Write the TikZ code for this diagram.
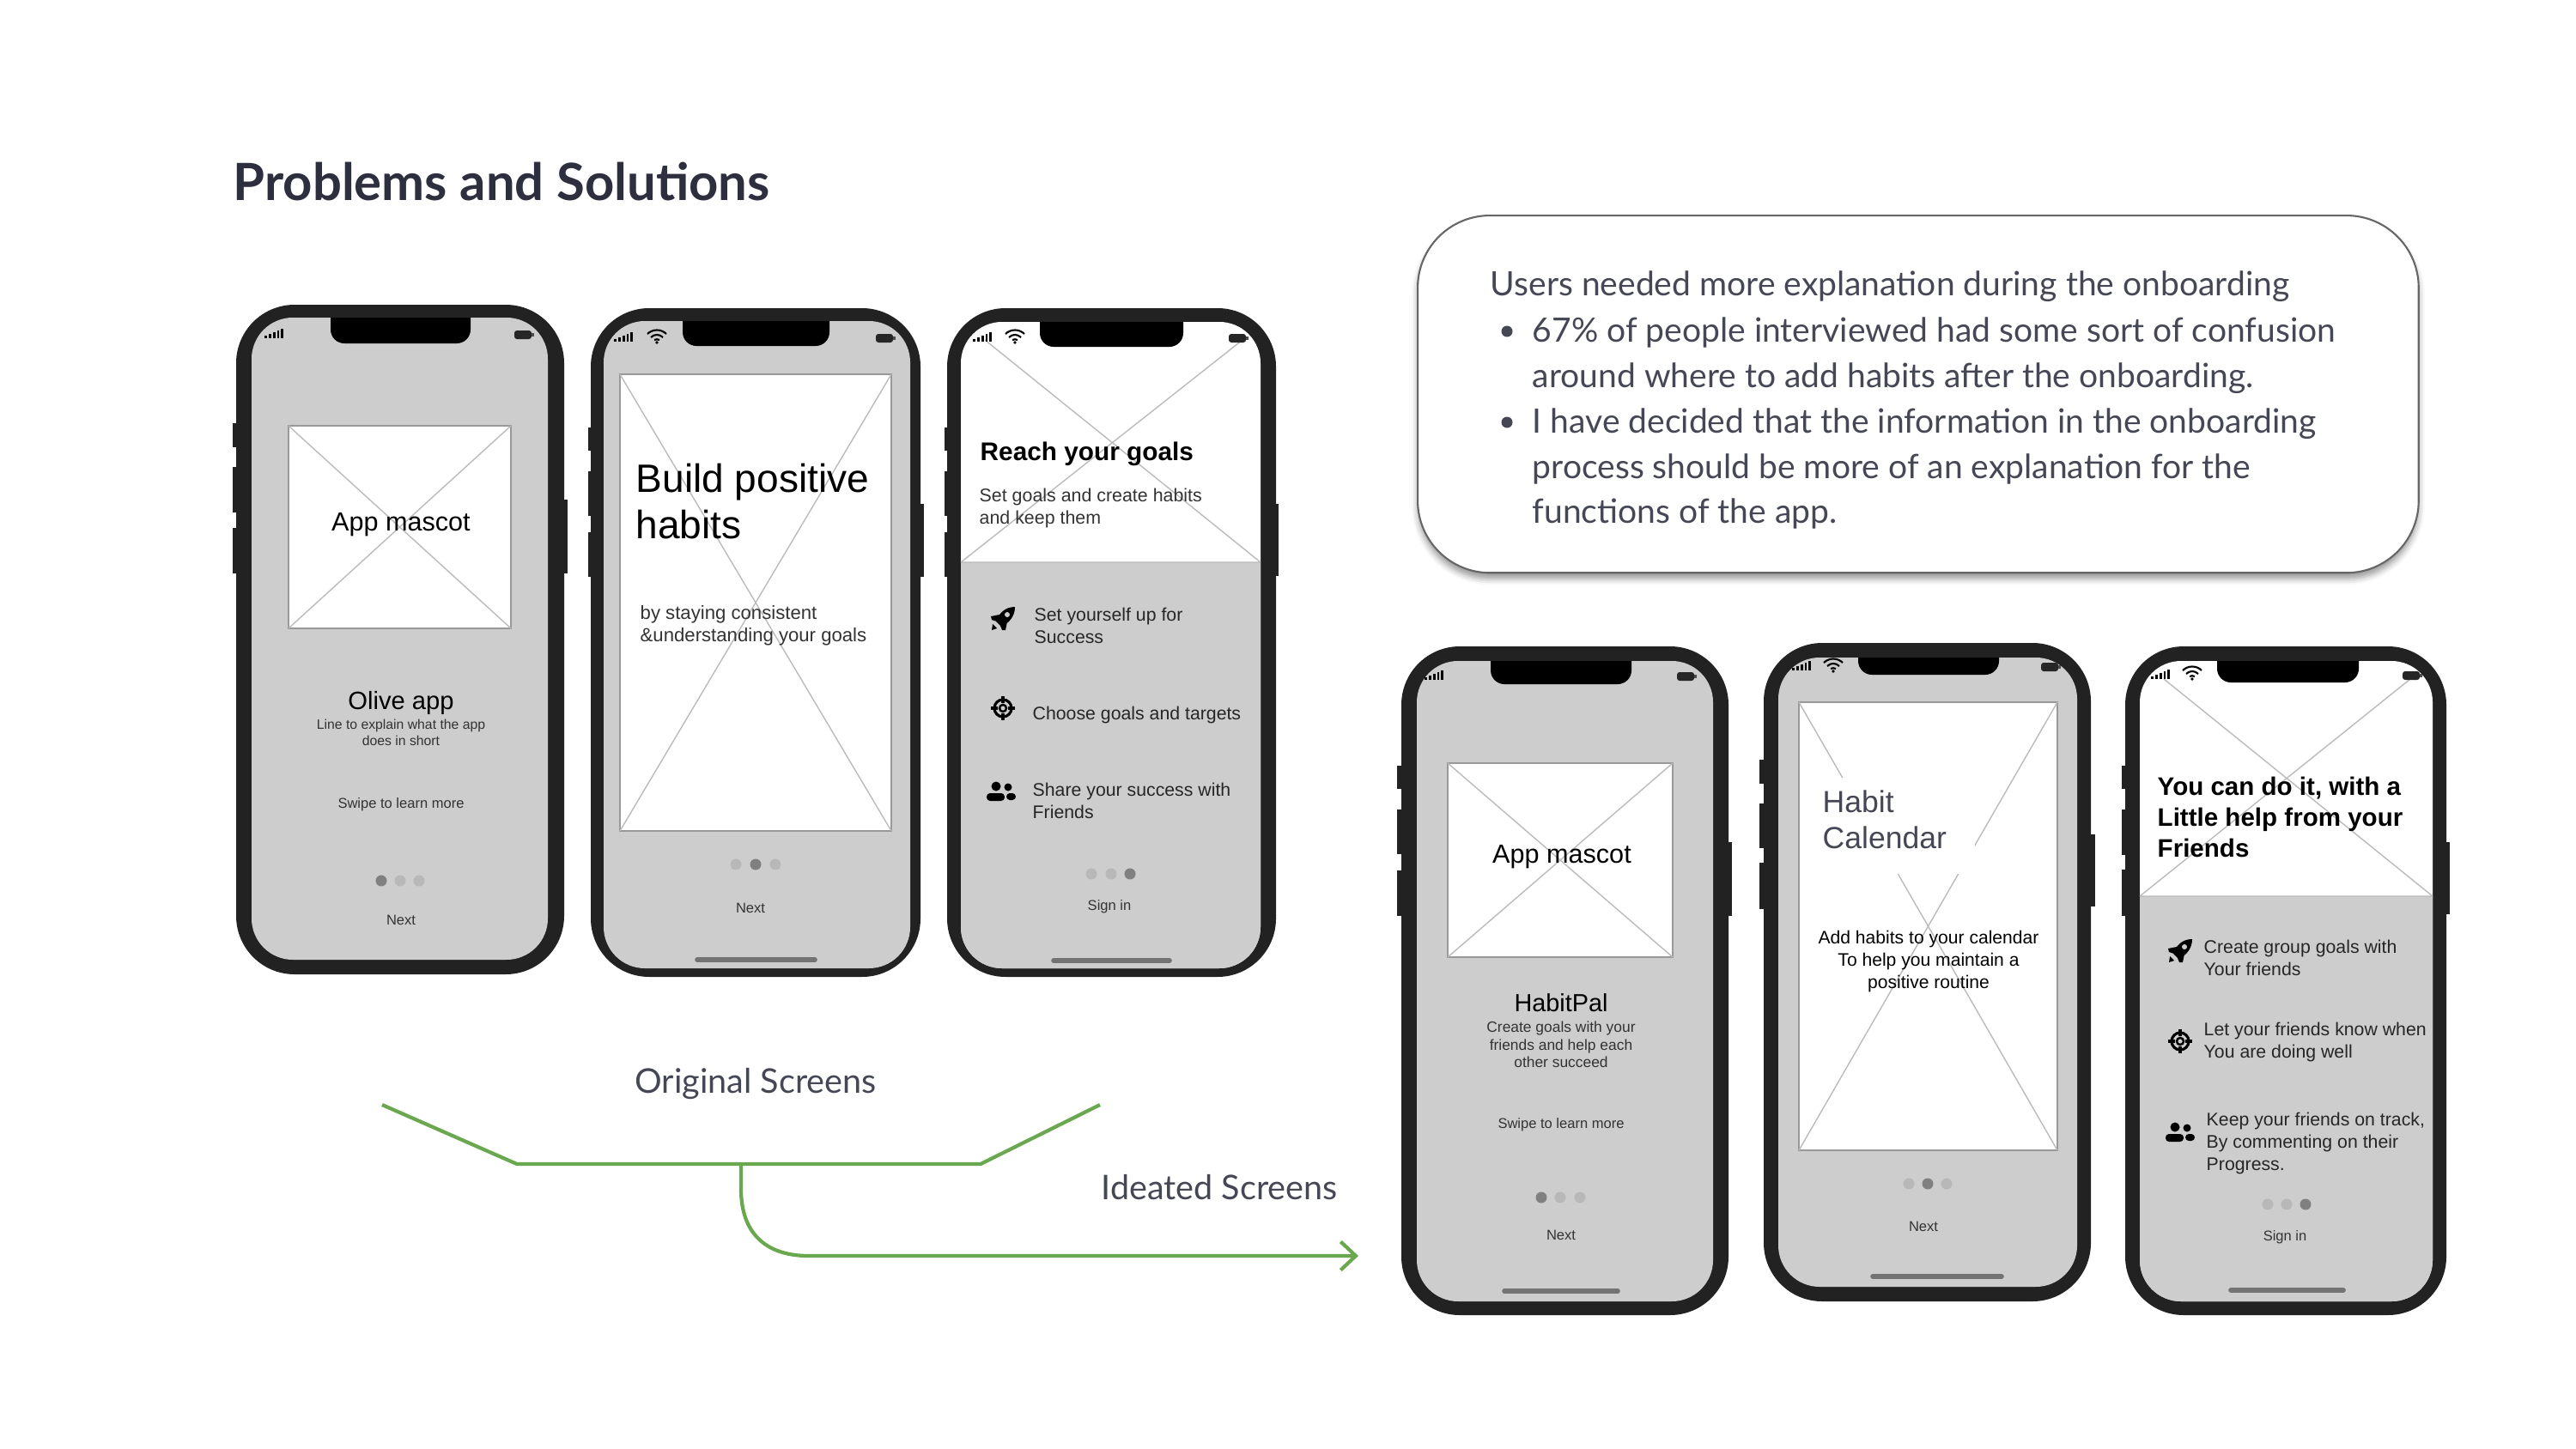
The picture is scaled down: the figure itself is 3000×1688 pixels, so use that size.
\documentclass[tikz,border=0pt]{standalone}
\usepackage{fontspec}
\setmainfont{Liberation Sans}
\newfontfamily\slidefont{Lato}
\usetikzlibrary{arrows.meta,shadows,shadows.blur}
\definecolor{framedark}{HTML}{222222}
\definecolor{screengray}{HTML}{CDCDCD}
\definecolor{crossgray}{HTML}{BBBBBB}
\definecolor{dotdark}{HTML}{808080}
\definecolor{dotlight}{HTML}{B8B8B8}
\definecolor{slidetext}{HTML}{454755}
\definecolor{slidetitle}{HTML}{2D2F3E}
\definecolor{branchgreen}{HTML}{6AA84F}
\newcommand{\fsize}[2]{\fontsize{#1}{#2}\selectfont}
\tikzset{
	phonebtn/.style={fill=framedark},
	phoneframe/.style={fill=framedark,rounded corners=0.68cm},
	phonescreen/.style={fill=screengray,rounded corners=0.48cm},
	phonewhite/.style={fill=white,rounded corners=0.48cm},
	phonelower/.style={fill=screengray},
	phonenotch/.style={fill=black},
	homebar/.style={draw=black!55,line width=1.6pt,line cap=round},
	wirebox/.style={draw=black!40,fill=white,line width=0.4pt},
	wirecross/.style={draw=crossgray,line width=0.4pt},
	apptext/.style={inner sep=0pt,text=black,align=center},
	applabel/.style={inner sep=0pt,text=black!80,align=center},
	rowlabel/.style={inner sep=0pt,anchor=west,align=left,text=black!85,font=\fsize{6.05}{7.4}},
	smalllabel/.style={applabel,font=\fsize{4.7}{5.6}},
	slidelabel/.style={inner sep=0pt,text=slidetext,font=\slidefont\fsize{11.25}{15}},
	notelabel/.style={inner sep=0pt,anchor=west,align=left,text=slidetext,font=\slidefont\fsize{11.1}{15}},
	notebox/.style={draw=black!60,fill=white,line width=0.6pt,rounded corners=0.84cm,inner sep=0pt,minimum width=11.65cm,minimum height=4.16cm,blur shadow={shadow xshift=0pt,shadow yshift=-2pt,shadow blur radius=2pt,shadow opacity=40}},
	branch/.style={draw=branchgreen,line width=1.2pt},
	signal/.pic={
		\fill (-11,2) rectangle (-8,5);
		\fill (-6,0) rectangle (-3,5);
		\fill (-1,-2) rectangle (2,5);
		\fill (4,-4) rectangle (6,5);
		\fill (8,-6) rectangle (11,5);
	},
	wifi/.pic={
		\draw[line width=0.6pt] (-11,-4) .. controls (-5,-10) and (5,-10) .. (11,-4);
		\draw[line width=0.6pt] (-7,0) .. controls (-3,-4) and (3,-4) .. (7,0);
		\draw[line width=0.6pt] (-3,3) .. controls (-1,2) and (1,2) .. (3,3);
		\fill (0,6) circle[radius=1.8];
	},
	battery/.pic={
		\fill[black!85,rounded corners=0.03cm] (-11,-5) rectangle (9,5);
		\fill[black!70] (9,-2) rectangle (12,2);
	},
	rocket/.pic={
		\fill (14,-14) .. controls (2,-14) and (-5,-6) .. (-8,3) -- (-2,9) .. controls (7,5) and (14,-3) .. (14,-14) -- cycle;
		\fill (-4,-5) -- (-14,-3) -- (-13,1) -- (-7,3) -- cycle;
		\fill (5,3) -- (3,13) -- (-1,13) -- (-3,8) -- cycle;
		\fill (-12,6) -- (-7,11) -- (-13,13) -- cycle;
		\fill[screengray] (5,-5) circle[radius=3];
	},
	target/.pic={
		\draw[line width=0.9pt] (0,0) circle[radius=10];
		\draw[line width=0.7pt] (0,0) circle[radius=4];
		\draw[line width=0.9pt] (-14,0) -- (-6,0) (6,0) -- (14,0) (0,-14) -- (0,-6) (0,6) -- (0,14);
	},
	people/.pic={
		\fill (-6,-6) circle[radius=5.5];
		\fill (8,-5) circle[radius=4.5];
		\fill[rounded corners=0.04cm] (-17,2) rectangle (4,11);
		\fill[rounded corners=0.04cm] (6,2) rectangle (17,10);
	}
}
\begin{document}
\begin{tikzpicture}[x=0.01cm,y=-0.01cm]
	\useasboundingbox (0,0) rectangle (3000,1688);

	\node[inner sep=0pt,anchor=west,text=slidetitle,font=\slidefont\bfseries\fsize{17}{20}] (title) at (271,212) {Problems and Solutions};

	\node[notebox,anchor=north west] (note) at (1650,250) {};
	\node[notelabel] (notehead) at (1735,334) {Users needed more explanation during the onboarding};
	\fill[slidetext] (1755,386) circle[radius=6.5];
	\node[notelabel] (notefirst) at (1784,414) {67\% of people interviewed had some sort of confusion\\around where to add habits after the onboarding.};
	\fill[slidetext] (1755,492) circle[radius=6.5];
	\node[notelabel] (notesecond) at (1784,546) {I have decided that the information in the onboarding\\process should be more of an explanation for the\\functions of the app.};

	\fill[phonebtn] (271,493) rectangle (280,521);
	\fill[phonebtn] (271,544) rectangle (280,597);
	\fill[phonebtn] (271,615) rectangle (280,668);
	\fill[phonebtn] (650,582) rectangle (661,668);
	\fill[phoneframe] (275,355) rectangle (657,1135);
	\fill[phonescreen] (293,370) rectangle (638,1118);
	\fill[phonenotch] (385,370) [rounded corners=0.16cm] -- (385,400) -- (548,400) [sharp corners] -- (548,370) -- cycle;
	\pic at (319,389) {signal};
	\pic at (610,390) {battery};
	\draw[wirebox] (336,496) rectangle (595,732);
	\draw[wirecross] (336,496) -- (595,732) (595,496) -- (336,732);
	\node[apptext,font=\fsize{8.7}{10}] (mascotold) at (467,611) {App mascot};
	\node[apptext,font=\fsize{8.3}{10}] (oliveapp) at (467,819) {Olive app};
	\node[smalllabel,font=\fsize{4.48}{5.4}] (oliveline) at (467,853.5) {Line to explain what the app\\does in short};
	\node[smalllabel] (oliveswipe) at (467,937) {Swipe to learn more};
	\fill[dotdark] (444,1026) circle[radius=6.5];
	\fill[dotlight] (466,1026) circle[radius=6.5];
	\fill[dotlight] (488,1026) circle[radius=6.5];
	\node[smalllabel] (olivenext) at (467,1072) {Next};

	\fill[phonebtn] (685,498) rectangle (695,525);
	\fill[phonebtn] (685,549) rectangle (695,601);
	\fill[phonebtn] (685,620) rectangle (695,672);
	\fill[phonebtn] (1065,587) rectangle (1076,672);
	\fill[phoneframe] (688,359) rectangle (1072,1138);
	\fill[phonescreen] (703,374) rectangle (1060,1128);
	\fill[phonenotch] (795,374) [rounded corners=0.16cm] -- (795,403) -- (966,403) [sharp corners] -- (966,374) -- cycle;
	\pic at (726,393) {signal};
	\pic at (765,393) {wifi};
	\pic at (1031,394) {battery};
	\draw[wirebox] (722,436) rectangle (1038,968);
	\draw[wirecross] (722,436) -- (1038,968) (1038,436) -- (722,968);
	\node[apptext,anchor=west,align=left,font=\fsize{13.1}{15.4}] (buildhabits) at (740,584) {Build positive\\habits};
	\node[applabel,anchor=west,align=left,font=\fsize{6.3}{7.4}] (buildline) at (745,729) {by staying consistent\\\&understanding your goals};
	\fill[dotlight] (857,1007) circle[radius=6.5];
	\fill[dotdark] (880,1007) circle[radius=6.5];
	\fill[dotlight] (903,1007) circle[radius=6.5];
	\node[smalllabel] (buildnext) at (874,1058) {Next};
	\draw[homebar] (812,1118) -- (949,1118);

	\fill[phonebtn] (1100,498) rectangle (1110,525);
	\fill[phonebtn] (1100,549) rectangle (1110,601);
	\fill[phonebtn] (1100,620) rectangle (1110,672);
	\fill[phonebtn] (1480,587) rectangle (1489,671);
	\fill[phoneframe] (1103,359) rectangle (1486,1138);
	\fill[phonewhite] (1119,375) rectangle (1468,1128);
	\fill[phonelower] (1119,655) -- (1468,655) [rounded corners=0.48cm] -- (1468,1128) -- (1119,1128) [sharp corners] -- cycle;
	\draw[wirecross] (1147,396) -- (1468,655) (1447,396) -- (1119,655) (1119,655) -- (1468,655);
	\fill[phonenotch] (1211,375) [rounded corners=0.16cm] -- (1211,404) -- (1378,404) [sharp corners] -- (1378,375) -- cycle;
	\pic at (1144,393) {signal};
	\pic at (1182,393) {wifi};
	\pic at (1442,394) {battery};
	\node[apptext,anchor=west,font=\bfseries\fsize{8.47}{10}] (reachgoals) at (1141,529) {Reach your goals};
	\node[applabel,anchor=west,align=left,font=\fsize{6.08}{7.4}] (reachline) at (1140,591.5) {Set goals and create habits\\and keep them};
	\pic at (1168,721) {rocket};
	\node[rowlabel] (reachrowa) at (1204,729) {Set yourself up for\\Success};
	\pic at (1168,825) {target};
	\node[rowlabel] (reachrowb) at (1202,833) {Choose goals and targets};
	\pic at (1166,922) {people};
	\node[rowlabel] (reachrowc) at (1202,933) {Share your success with\\Friends};
	\fill[dotlight] (1271,1018) circle[radius=6.5];
	\fill[dotlight] (1294,1018) circle[radius=6.5];
	\fill[dotdark] (1316,1018) circle[radius=6.5];
	\node[smalllabel] (reachsign) at (1292,1056) {Sign in};
	\draw[homebar] (1227,1119) -- (1362,1119);

	\coordinate (oldleft) at (445,1287);
	\coordinate (oldbaseleft) at (602,1356);
	\coordinate (oldstem) at (863,1356);
	\coordinate (oldbaseright) at (1142,1356);
	\coordinate (oldright) at (1281,1287);
	\coordinate (newstart) at (942,1463);
	\coordinate (newend) at (1582,1463);
	\draw[branch] (oldleft) -- (oldbaseleft) -- (oldbaseright) -- (oldright);
	\draw[branch,-{Straight Barb[length=5pt,width=9.4pt]}] (oldstem) -- (863,1385) .. controls (863,1435) and (890,1463) .. (newstart) -- (newend);
	\node[slidelabel] (oldscreens) at (880,1263) {Original Screens};
	\node[slidelabel] (newscreens) at (1420,1383) {Ideated Screens};

	\fill[phonebtn] (1627,892) rectangle (1637,919);
	\fill[phonebtn] (1627,943) rectangle (1637,995);
	\fill[phonebtn] (1627,1014) rectangle (1637,1067);
	\fill[phonebtn] (2005,981) rectangle (2017,1067);
	\fill[phoneframe] (1632,753) rectangle (2013,1532);
	\fill[phonescreen] (1650,770) rectangle (1995,1516);
	\fill[phonenotch] (1736,770) [rounded corners=0.16cm] -- (1736,797) -- (1900,797) [sharp corners] -- (1900,770) -- cycle;
	\pic at (1670,787) {signal};
	\pic at (1964,788) {battery};
	\draw[wirebox] (1686,889) rectangle (1948,1115);
	\draw[wirecross] (1686,889) -- (1948,1115) (1948,889) -- (1686,1115);
	\node[apptext,font=\fsize{8.7}{10}] (mascotnew) at (1819,998) {App mascot};
	\node[apptext,font=\fsize{8.2}{10}] (habitpal) at (1818,1168) {HabitPal};
	\node[smalllabel,font=\fsize{4.95}{5.8}] (habitline) at (1818,1217) {Create goals with your\\friends and help each\\other succeed};
	\node[smalllabel] (habitswipe) at (1818,1310) {Swipe to learn more};
	\fill[dotdark] (1795,1395) circle[radius=6.5];
	\fill[dotlight] (1817,1395) circle[radius=6.5];
	\fill[dotlight] (1840,1395) circle[radius=6.5];
	\node[smalllabel] (habitnext) at (1818,1439) {Next};
	\draw[homebar] (1752,1504) -- (1884,1504);

	\fill[phonebtn] (2049,885) rectangle (2059,913);
	\fill[phonebtn] (2049,936) rectangle (2059,988);
	\fill[phonebtn] (2049,1005) rectangle (2059,1059);
	\fill[phonebtn] (2428,972) rectangle (2440,1056);
	\fill[phoneframe] (2054,749) rectangle (2435,1516);
	\fill[phonescreen] (2071,766) rectangle (2419,1499);
	\fill[phonenotch] (2164,766) [rounded corners=0.16cm] -- (2164,786) -- (2328,786) [sharp corners] -- (2328,766) -- cycle;
	\pic at (2098,776) {signal};
	\pic at (2135,776) {wifi};
	\pic at (2388,777) {battery};
	\draw[wirebox] (2095,818) rectangle (2396,1340);
	\draw[wirecross] (2095,818) -- (2396,1340) (2396,818) -- (2095,1340);
	\fill[white] (2112,906) rectangle (2300,1018);
	\node[inner sep=0pt,anchor=west,align=left,text=slidetext,font=\fsize{10.1}{12}] (habitcal) at (2122,955) {Habit\\Calendar};
	\node[apptext,font=\fsize{6}{7.4}] (calline) at (2246,1120) {Add habits to your calendar\\To help you maintain a\\positive routine};
	\fill[dotlight] (2223,1379) circle[radius=6.5];
	\fill[dotdark] (2245,1379) circle[radius=6.5];
	\fill[dotlight] (2267,1379) circle[radius=6.5];
	\node[smalllabel] (calnext) at (2240,1429) {Next};
	\draw[homebar] (2181,1487) -- (2331,1487);

	\fill[phonebtn] (2471,892) rectangle (2481,919);
	\fill[phonebtn] (2471,943) rectangle (2481,996);
	\fill[phonebtn] (2471,1013) rectangle (2481,1067);
	\fill[phonebtn] (2843,981) rectangle (2853,1065);
	\fill[phoneframe] (2475,753) rectangle (2849,1532);
	\fill[phonewhite] (2492,770) rectangle (2833,1516);
	\fill[phonelower] (2492,1044) -- (2833,1044) [rounded corners=0.48cm] -- (2833,1516) -- (2492,1516) [sharp corners] -- cycle;
	\draw[wirecross] (2520,791) -- (2833,1044) (2807,791) -- (2492,1044) (2492,1044) -- (2833,1044);
	\fill[phonenotch] (2582,770) [rounded corners=0.16cm] -- (2582,795) -- (2747,795) [sharp corners] -- (2747,770) -- cycle;
	\pic at (2516,786) {signal};
	\pic at (2553,785) {wifi};
	\pic at (2809,787) {battery};
	\node[apptext,anchor=west,align=left,font=\bfseries\fsize{8.4}{10.2}] (helptitle) at (2512,952) {You can do it, with a\\Little help from your\\Friends};
	\pic at (2539,1108) {rocket};
	\node[rowlabel] (helprowa) at (2566,1115.5) {Create group goals with\\Your friends};
	\pic at (2539,1213) {target};
	\node[rowlabel] (helprowb) at (2566,1213.5) {Let your friends know when\\You are doing well};
	\pic at (2539,1319) {people};
	\node[rowlabel] (helprowc) at (2569,1332) {Keep your friends on track,\\By commenting on their\\Progress.};
	\fill[dotlight] (2641,1403) circle[radius=6.5];
	\fill[dotlight] (2663,1403) circle[radius=6.5];
	\fill[dotdark] (2685,1403) circle[radius=6.5];
	\node[smalllabel] (helpsign) at (2661,1441) {Sign in};
	\draw[homebar] (2598,1503) -- (2729,1503);
\end{tikzpicture}
\end{document}
